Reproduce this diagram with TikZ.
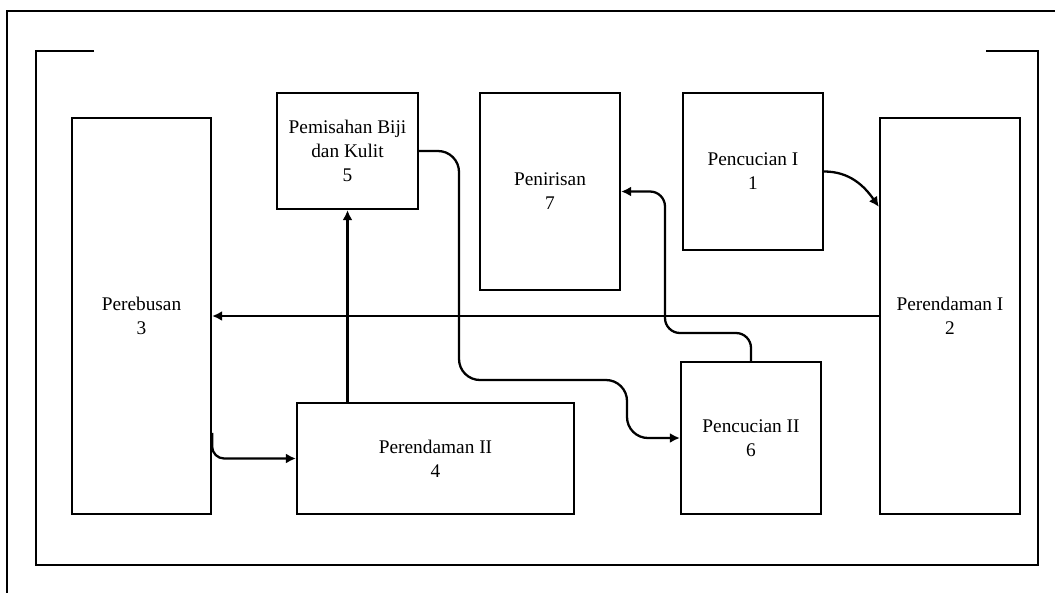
\documentclass[tikz,border=0pt]{standalone}
\usepackage{fontspec}
\setmainfont{Liberation Serif}
\usetikzlibrary{arrows.meta}
\begin{document}
\begin{tikzpicture}[x=0.02cm,y=-0.02cm,line width=1.3pt,
  font=\fontsize{11}{13.6}\selectfont,
  tahap/.style={draw,align=center,inner sep=0pt},
  panah/.style={-{Latex[length=2mm,width=2mm]}}]
\useasboundingbox (0,0) rectangle (1055,592);
% bingkai
\draw[line width=1.5pt] (7,600) -- (7,11) -- (1060,11);
\draw (94,51) -- (36,51) -- (36,565) -- (1038,565) -- (1038,51) -- (986,51);
% tahapan proses
\node[tahap,minimum width=2.8cm,minimum height=3.14cm] (cuci1) at (753,171.5) {Pencucian I\\1};
\node[tahap,minimum width=2.8cm,minimum height=7.92cm] (rendam1) at (950,316) {Perendaman I\\2};
\node[tahap,minimum width=2.78cm,minimum height=7.92cm] (rebus) at (141.5,316) {Perebusan\\3};
\node[tahap,minimum width=5.54cm,minimum height=2.22cm] (rendam2) at (435.5,458.5) {Perendaman II\\4};
\node[tahap,minimum width=2.82cm,minimum height=2.32cm] (pisah) at (347.5,151) {Pemisahan Biji\\dan Kulit\\5};
\node[tahap,minimum width=2.8cm,minimum height=3.04cm] (cuci2) at (751,438) {Pencucian II\\6};
\node[tahap,minimum width=2.8cm,minimum height=3.94cm] (tiris) at (550,191.5) {Penirisan\\7};
% alur
\draw[panah] (cuci1.east) to[out=0,in=125] ([yshift=-1.8cm]rendam1.north west);
\draw[panah] (rendam1.west) -- (rebus.east);
\draw[panah,rounded corners=0.24cm] ([yshift=-2.34cm]rebus.east) |- (rendam2.west);
\draw[panah] (rendam2.north -| pisah.south) -- (pisah.south);
\draw[panah,rounded corners=0.42cm] (pisah.east) -| (459,380) -- (627,380) |- (cuci2.west);
\draw[panah,rounded corners=0.3cm] (cuci2.north) |- (665,333) |- (tiris.east);
\end{tikzpicture}
\end{document}
